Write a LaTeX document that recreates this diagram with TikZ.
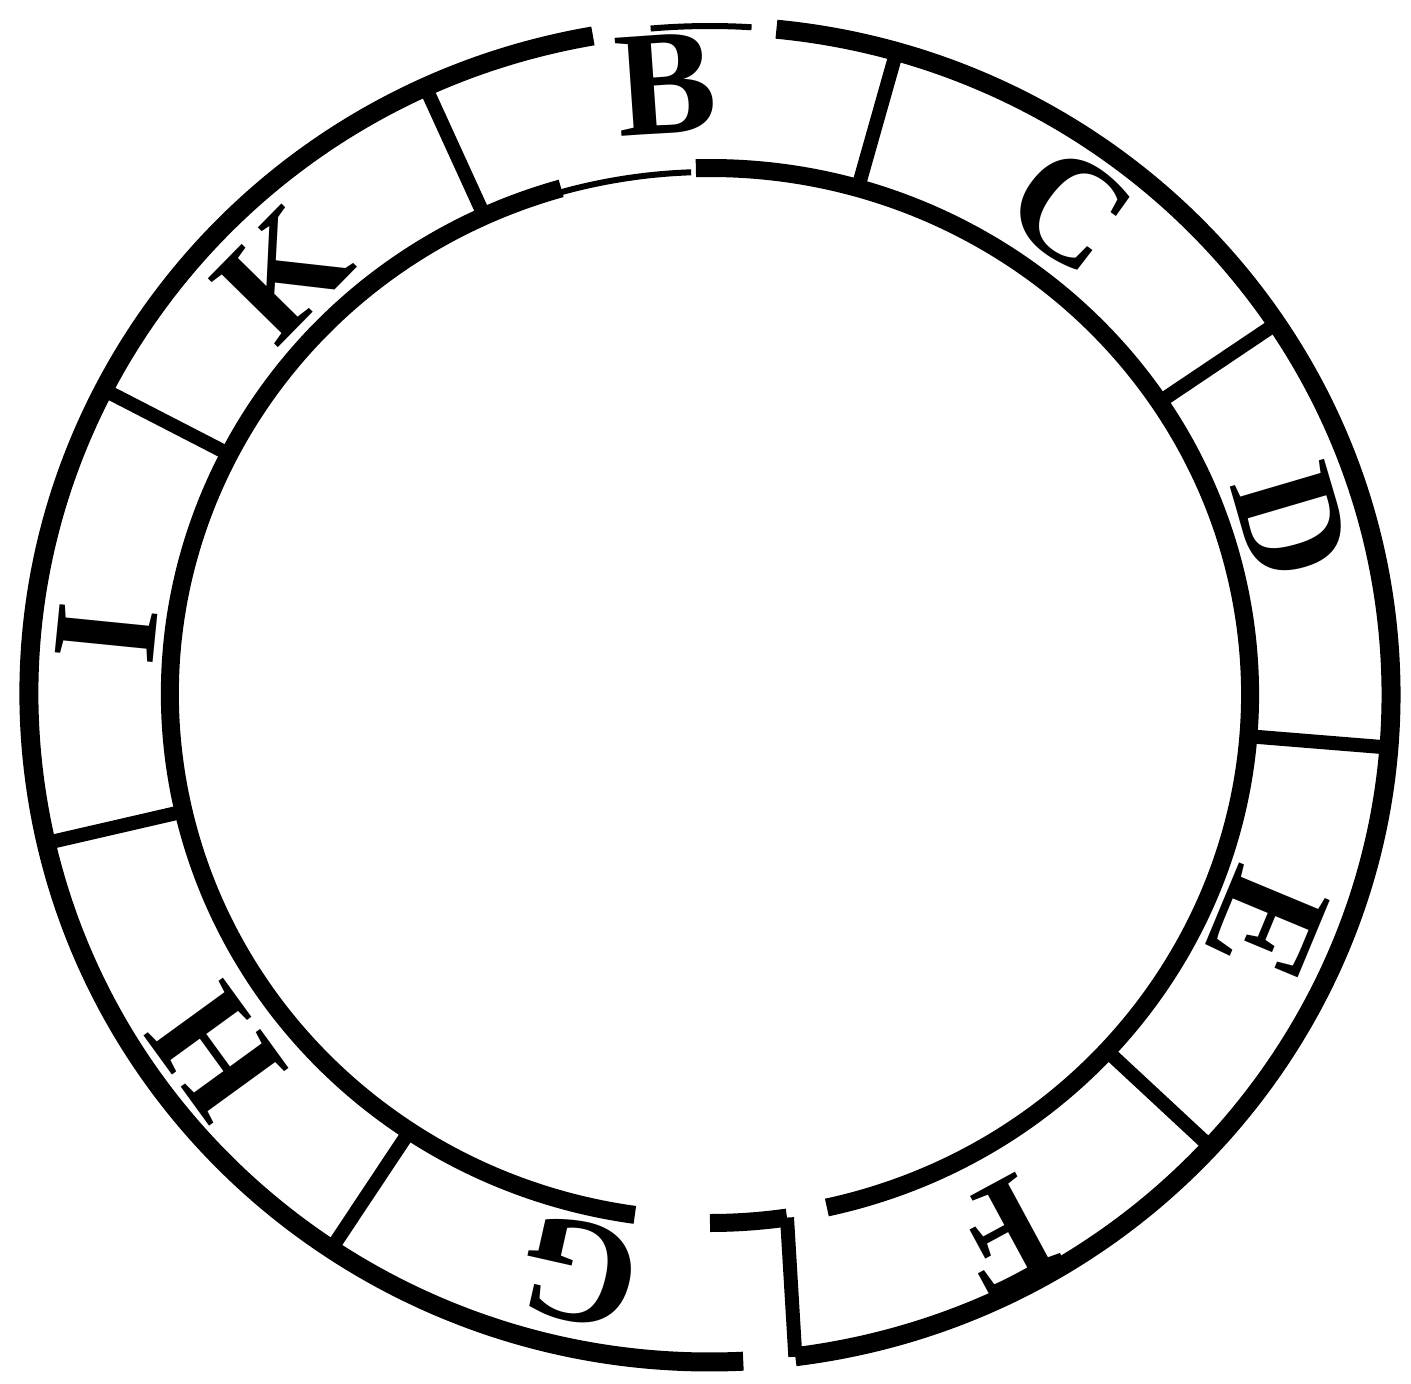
\documentclass[tikz,border=0pt]{standalone}
\usepackage{fontspec}
\setmainfont{Liberation Serif}
\begin{document}
\begin{tikzpicture}[x=1pt,y=1pt]
\tikzset{
  outerring/.style={line width=19pt},
  innerring/.style={line width=18pt},
  faint/.style={line width=6pt},
  rib/.style={line width=14pt},
  lab/.style={font=\fontsize{150}{150}\selectfont\bfseries, inner sep=0pt}
}
\useasboundingbox (-710,-690) rectangle (701,694);
% outer ring (with gaps)
\draw[outerring] (-82.8:681 and 668) arc[start angle=-82.8, end angle=84.4, x radius=681, y radius=668];
\draw[faint] (86.5:681 and 668) arc[start angle=86.5, end angle=95, x radius=681, y radius=668];
\draw[outerring] (99.9:681 and 668) arc[start angle=99.9, end angle=272.8, x radius=681, y radius=668];
% inner ring (with gaps)
\draw[innerring] (-77.5:540 and 526) arc[start angle=-77.5, end angle=91.5, x radius=540, y radius=526];
\draw[faint] (92:540 and 522) arc[start angle=92, end angle=106, x radius=540, y radius=522];
\draw[innerring] (106:540 and 526) arc[start angle=106, end angle=262, x radius=540, y radius=526];
\draw[innerring] (-90:540 and 529) arc[start angle=-90, end angle=-81.8, x radius=540, y radius=529];
% dividers
\foreach \a in {114.7, 74.1, 33.7, -4.6, -42.7, -123.8, -167.1, 152.9}
  \draw[rib] (\a:540 and 526) -- (\a:681 and 668);
\coordinate (fgin) at (-81.8:540 and 529);
\coordinate (fgout) at (-82.8:681 and 668);
\draw[rib] (fgin) -- (fgout);
% letters
\node[lab, rotate=4]      (B) at (-44, 610)  {B};
\node[lab, rotate=-36.6]  (C) at (360, 484)  {C};
\node[lab, rotate=-73.6]  (D) at (582, 171)  {D};
\node[lab, rotate=-112.6] (E) at (557, -232) {E};
\node[lab, rotate=-151.6] (F) at (292, -541) {F};
\node[lab, rotate=167.3]  (G) at (-130, -578) {G};
\node[lab, rotate=126]    (H) at (-494, -358) {H};
\node[lab, rotate=84.3]   (I) at (-603, 60)  {I};
\node[lab, rotate=45.5]   (K) at (-428, 421) {K};
\end{tikzpicture}
\end{document}
